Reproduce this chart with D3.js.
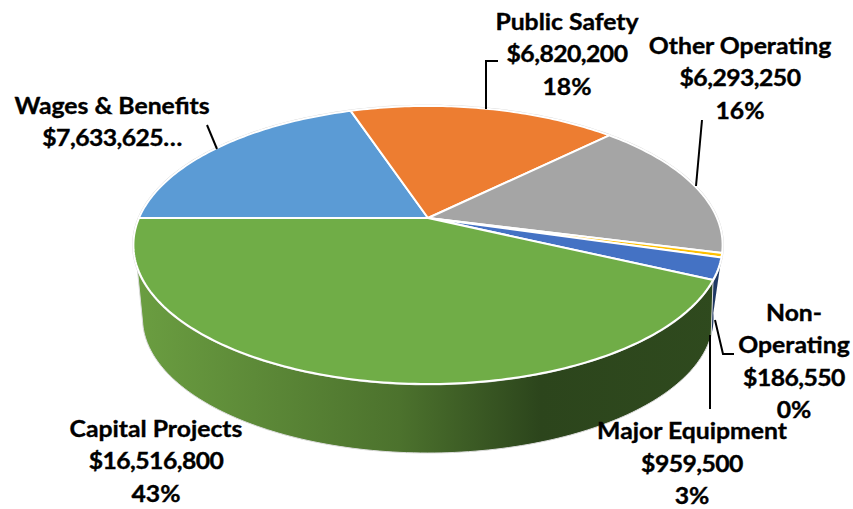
<!DOCTYPE html>
<html>
<head>
<meta charset="utf-8">
<script src="https://cdn.jsdelivr.net/npm/d3@7"></script>
<style>
  html, body { margin: 0; padding: 0; background: #fff; }
  text { font-family: Lato, "Open Sans", sans-serif; font-weight: 700; fill: #000; stroke: #000; stroke-width: 0.35px; }
</style>
</head>
<body>
<svg id="chart" width="853" height="509"></svg>
<script>
// values, in drawing order (clockwise from the left edge)
var categories = ["Wages & Benefits", "Public Safety", "Other Operating", "Non-Operating", "Major Equipment", "Capital Projects"];
var amounts = [7633625, 6820200, 6293250, 186550, 959500, 16516800];
var topColors = ["#5b9bd5", "#ed7d31", "#a5a5a5", "#ffc000", "#4472c4", "#70ad47"];
var sideColors = ["#335a7f", "#8e4b1d", "#636363", "#997300", "#1f3864", "url(#greenSide)"];

// label text is kept as printed, with the line breaks of the reference
var labelLines = [
  ["Wages & Benefits", "$7,633,625…"],
  ["Public Safety", "$6,820,200", "18%"],
  ["Other Operating", "$6,293,250", "16%"],
  ["Non-", "Operating", "$186,550", "0%"],
  ["Major Equipment", "$959,500", "3%"],
  ["Capital Projects", "$16,516,800", "43%"]
];

var width = 853, height = 509;
var svg = d3.select("#chart").attr("viewBox", [0, 0, width, height]);

// the pie is a perspective view of a disc, so top and bottom rims get their own projection
var topRim = {cx: 428, cy: 218, a: 133.8, b: 289, k: -0.194};
var bottomRim = {cx: 428, cy: 275.5, a: 121.6, b: 271, k: -0.315};

function project(rim, angle, r) {
  var x = Math.sin(angle) * r, y = -Math.cos(angle) * r;
  var w = 1 + rim.k * y;
  return [rim.cx + rim.b * x / w, rim.cy + rim.a * y / w];
}

var deg = Math.PI / 180;
var pie = d3.pie().sort(null).startAngle(270 * deg).endAngle(630 * deg);
var slices = pie(amounts);

var line = d3.line();

function arcPoints(rim, from, to) {
  var n = Math.max(2, Math.ceil(Math.abs(to - from) / deg) + 1);
  return d3.range(n).map(i => project(rim, from + (to - from) * i / (n - 1), 1));
}

// side wall gradient runs left to right, darkest a bit past the middle
var grad = svg.append("defs").append("linearGradient")
  .attr("id", "greenSide")
  .attr("gradientUnits", "userSpaceOnUse")
  .attr("x1", 134).attr("x2", 723).attr("y1", 0).attr("y2", 0);
[[0, "#6b9e41"], [0.45, "#4c722d"], [0.69, "#2c451c"], [1, "#2f4a1e"]].forEach(s => {
  grad.append("stop").attr("offset", s[0]).attr("stop-color", s[1]);
});

// only the front of the wall can be seen, angles here are clockwise from the top
var wallFrom = 106 * deg, wallTo = 250 * deg;

var walls = svg.append("g");
slices.forEach((d, i) => {
  var lo = Math.max(d.startAngle % (2 * Math.PI), wallFrom);
  var hi = d.startAngle % (2 * Math.PI) + (d.endAngle - d.startAngle);
  hi = Math.min(hi, wallTo);
  if (hi <= lo) return;
  var pts = arcPoints(topRim, lo, hi).concat(arcPoints(bottomRim, hi, lo));
  walls.append("path")
    .attr("d", line(pts) + "Z")
    .attr("fill", sideColors[i])
    .attr("stroke", i == 5 ? "#dcdcdc" : "none")
    .attr("stroke-width", 1);
});

// faint rim outside the white slice borders
svg.append("path")
  .attr("d", line(arcPoints(topRim, 0, 2 * Math.PI)) + "Z")
  .attr("fill", "none")
  .attr("stroke", "#d4d4d4")
  .attr("stroke-width", 2.5);

var tops = svg.append("g");
slices.forEach((d, i) => {
  var pts = [[topRim.cx, topRim.cy]].concat(arcPoints(topRim, d.startAngle, d.endAngle));
  tops.append("path")
    .attr("d", line(pts) + "Z")
    .attr("fill", topColors[i])
    .attr("stroke", "#fff")
    .attr("stroke-width", 2)
    .attr("stroke-linejoin", "round");
});

// leader lines, same order as categories
var leaders = [
  [[217, 149], [207, 125]],
  [[486, 109], [486, 61], [498, 61]],
  [[696, 186], [702, 120]],
  [[715, 320], [723, 354], [734, 354]],
  [[710, 335], [710, 409]],
  []
];
svg.append("g").selectAll("path")
  .data(leaders.filter(l => l.length))
  .join("path")
  .attr("d", d => line(d))
  .attr("fill", "none")
  .attr("stroke", "#000")
  .attr("stroke-width", 2);

// label anchors: centre x and the y of the first line
var labelX = [112, 567, 740, 794, 692, 156];
var labelY = [114, 30, 54, 321, 439.5, 437];
var lineGap = 32.5;

// reference type is wider than Lato, so stretch it sideways a little. digits come out too wide though
var labels = svg.append("g");
labelLines.forEach((lines, i) => {
  var t = labels.append("text")
    .attr("text-anchor", "middle")
    .attr("font-size", 22.5)
    .attr("transform", "translate(" + labelX[i] + ",0) scale(1.1,1)");
  lines.forEach((s, j) => {
    t.append("tspan")
      .attr("x", 0)
      .attr("y", labelY[i] + j * lineGap)
      .attr("letter-spacing", s[0] == "$" ? "-0.5px" : null)
      .text(s);
  });
});
</script>
</body>
</html>
